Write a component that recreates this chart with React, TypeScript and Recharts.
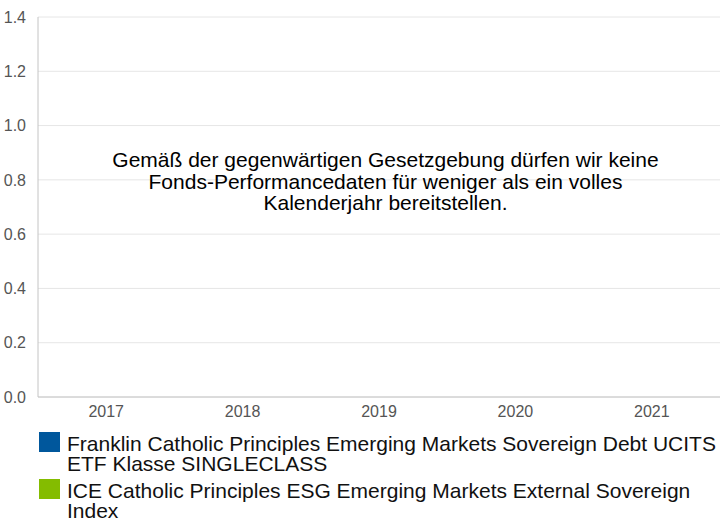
import { BarChart, Bar, XAxis, YAxis, CartesianGrid } from "recharts";

const years = ["2017", "2018", "2019", "2020", "2021"];
const fundValues: (number | null)[] = [null, null, null, null, null];
const indexValues: (number | null)[] = [null, null, null, null, null];
const yTicks = [0, 0.2, 0.4, 0.6, 0.8, 1.0, 1.2, 1.4];

const series = [
  {
    key: "fund",
    name: "Franklin Catholic Principles Emerging Markets Sovereign Debt UCITS ETF Klasse SINGLECLASS",
    color: "#00579c",
  },
  {
    key: "index",
    name: "ICE Catholic Principles ESG Emerging Markets External Sovereign Index",
    color: "#84bc00",
  },
];

const message =
  "Gemäß der gegenwärtigen Gesetzgebung dürfen wir keine Fonds-Performancedaten für weniger als ein volles Kalenderjahr bereitstellen.";

const data = years.map((year, i) => ({
  year,
  fund: fundValues[i],
  index: indexValues[i],
}));

const font = "'Liberation Sans', Arial, sans-serif";

export default function App() {
  return (
    <div
      style={{
        position: "absolute",
        left: 0,
        top: 0,
        width: 726,
        height: 521,
        fontFamily: font,
        background: "#fff",
      }}
    >
      <BarChart
        width={726}
        height={430}
        data={data}
        margin={{ top: 17, right: 6, left: 0, bottom: 0 }}
      >
        <CartesianGrid vertical={false} stroke='#e6e6e6' />
        <XAxis
          dataKey='year'
          height={33}
          tickLine={false}
          axisLine={{ stroke: "#c4c4c4" }}
          tick={{ fill: "#555", fontSize: 16, fontFamily: font }}
          tickMargin={3}
        />
        <YAxis
          type='number'
          width={38}
          domain={[0, 1.4]}
          allowDataOverflow
          ticks={yTicks}
          interval={0}
          tickFormatter={(v: number) => v.toFixed(1)}
          tickLine={false}
          axisLine={{ stroke: "#c4c4c4" }}
          tick={{ fill: "#555", fontSize: 16, fontFamily: font }}
          tickMargin={6}
        />
        {series.map((s) => (
          <Bar
            key={s.key}
            dataKey={s.key}
            name={s.name}
            fill={s.color}
            isAnimationActive={false}
          />
        ))}
      </BarChart>

      <div
        style={{
          position: "absolute",
          left: 103,
          top: 149,
          width: 565,
          textAlign: "center",
          fontSize: 21,
          lineHeight: "21.5px",
          color: "#000",
        }}
      >
        {message}
      </div>

      <div style={{ position: "absolute", left: 39, top: 432, width: 687 }}>
        {series.map((s) => (
          <div
            key={s.key}
            style={{ display: "flex", alignItems: "flex-start", marginBottom: 5 }}
          >
            <div
              style={{
                width: 21,
                height: 20,
                background: s.color,
                flexShrink: 0,
              }}
            />
            <div
              style={{
                marginLeft: 7,
                marginTop: 2,
                width: 660,
                fontSize: 21,
                lineHeight: "20px",
                color: "#111",
              }}
            >
              {s.name}
            </div>
          </div>
        ))}
      </div>
    </div>
  );
}
